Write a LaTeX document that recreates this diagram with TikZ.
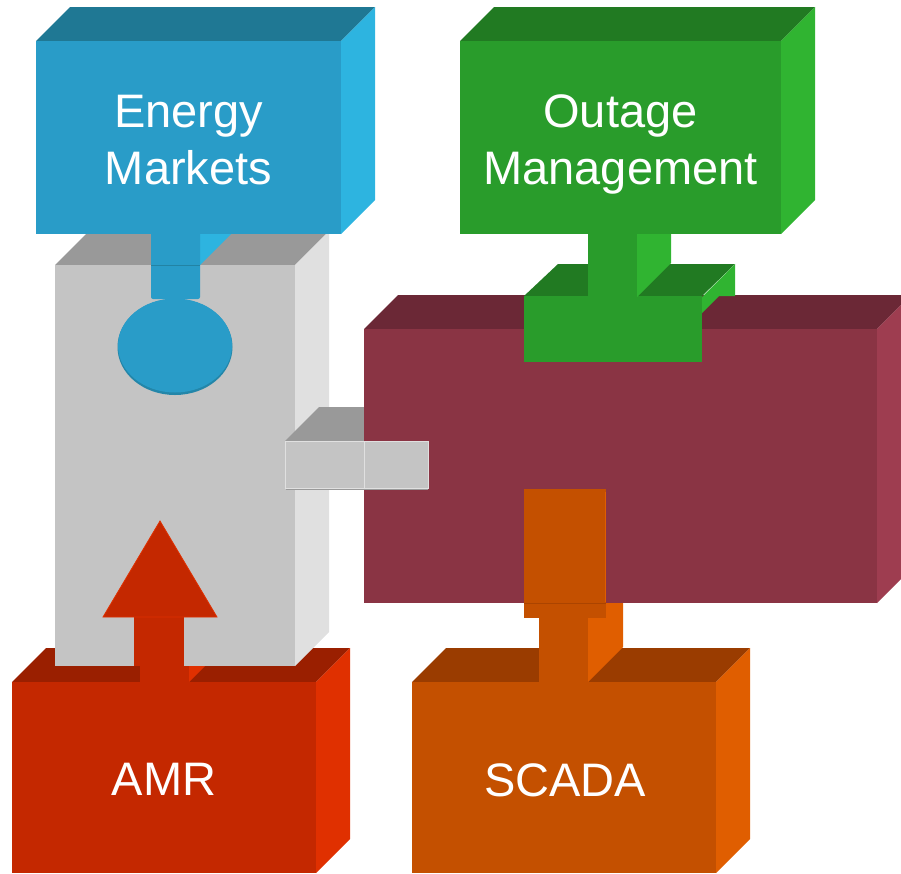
\documentclass[tikz,border=0pt]{standalone}
\usepackage{fontspec}
\setmainfont{Liberation Sans}
\definecolor{bluefront}{HTML}{299CC8}
\definecolor{bluetop}{HTML}{1F7894}
\definecolor{blueside}{HTML}{2DB4E0}
\definecolor{greenfront}{HTML}{299C2B}
\definecolor{greentop}{HTML}{217A22}
\definecolor{greenside}{HTML}{30B431}
\definecolor{redfront}{HTML}{C42800}
\definecolor{redtop}{HTML}{9A1F00}
\definecolor{redside}{HTML}{E03000}
\definecolor{orfront}{HTML}{C45000}
\definecolor{ortop}{HTML}{9A3C00}
\definecolor{orside}{HTML}{E05E00}
\definecolor{grayfront}{HTML}{C4C4C4}
\definecolor{graytop}{HTML}{999999}
\definecolor{grayside}{HTML}{E0E0E0}
\definecolor{marfront}{HTML}{8A3444}
\definecolor{martop}{HTML}{6B2836}
\definecolor{marside}{HTML}{9E3D50}
\newcommand\drawcube[6]{%
  \fill[#6top] (#1,#2) -- ({#1+#5},{#2-#5}) -- ({#3+#5},{#2-#5}) -- (#3,#2) -- cycle;
  \fill[#6side] (#3,#2) -- ({#3+#5},{#2-#5}) -- ({#3+#5},{#4-#5}) -- (#3,#4) -- cycle;
  \fill[#6front] (#1,#2) rectangle (#3,#4);
}
\tikzset{
  lbl/.style={text=white, font=\fontsize{47}{57}\selectfont, align=center, inner sep=0pt},
}
\begin{document}
\begin{tikzpicture}[x=1pt,y=-1pt]
\useasboundingbox (0,0) rectangle (901,873);
\clip (0,0) rectangle (901,873);
% AMR box
\drawcube{12}{682}{316}{873}{34}{red}
% red stem into AMR box
\fill[redside] (189,682) -- (223,648) -- (223,600) -- (189,634) -- cycle;
\fill[redfront] (140,640) rectangle (189,682);
% gray central box
\drawcube{55}{265}{295}{666}{34}{gray}
% red arrow
\fill[redfront] (134,612) rectangle (184,666);
\fill[redfront, draw=redside, line width=0.8pt, line join=miter] (160,521) -- (217,617) -- (103,617) -- cycle;
% gray connector top
\fill[graytop] (285,441) -- (319,407) -- (370,407) -- (370,441) -- cycle;
% blue stem
\fill[blueside] (200,265) -- (234,231) -- (234,200) -- (200,234) -- cycle;
\fill[bluefront, rounded corners=2pt] (151,225) -- (151,299) -- (200,299) -- (200,225) -- cycle;
\draw[bluetop!70!bluefront, line width=1pt] (151,265) -- (200,265);
% Energy Markets box
\drawcube{36}{41}{341}{234}{34}{blue}
% blue ellipse
\fill[bluetop!60!bluefront] (175,347) ellipse [x radius=57.5, y radius=48];
\fill[bluefront] (175,345.5) ellipse [x radius=57, y radius=47];
% SCADA box
\drawcube{412}{682}{716}{873}{34}{or}
% orange stem
\fill[orside] (588,682) -- (623,647) -- (623,580) -- (588,615) -- cycle;
\fill[orfront] (539,600) rectangle (588,682);
% maroon box
\drawcube{364}{329}{877}{603}{34}{mar}
% orange plug
\fill[orfront] (524,489) rectangle (606,618);
\draw[ortop!60!orfront, line width=1pt] (524,603) -- (606,603);
\draw[orside, line width=1pt] (605.5,492) -- (605.5,602);
% gray connector front
\fill[grayfront, draw=grayside, line width=1pt] (285.5,441.5) rectangle (364,488.5);
\fill[grayfront, draw=grayside, line width=1pt] (364.5,441.5) rectangle (428.5,488.5);
\draw[gray!80, line width=0.8pt] (286,489) -- (428,489);
% green base
\fill[greentop] (524,296) -- (558,264) -- (735,264) -- (702,296) -- cycle;
\fill[greenside] (702,297) -- (735,264) -- (735,296) -- (719,296) -- (702,313) -- cycle;
\fill[greenfront] (524,296) rectangle (702,362);
% green stem
\fill[greenside] (637,297) -- (671,263) -- (671,200) -- (637,234) -- cycle;
\fill[greenfront] (588,225) rectangle (637,297);
% Outage Management box
\drawcube{460}{41}{781}{234}{34}{green}
% labels
\node[lbl, anchor=base] (energy) at (188.5,184) {Energy\\Markets};
\node[lbl, anchor=base] (outage) at (620.5,184) {Outage\\Management};
\node[lbl, anchor=base] (amr) at (164,795) {AMR};
\node[lbl, anchor=base] (scada) at (565,796) {SCADA};
\end{tikzpicture}
\end{document}
